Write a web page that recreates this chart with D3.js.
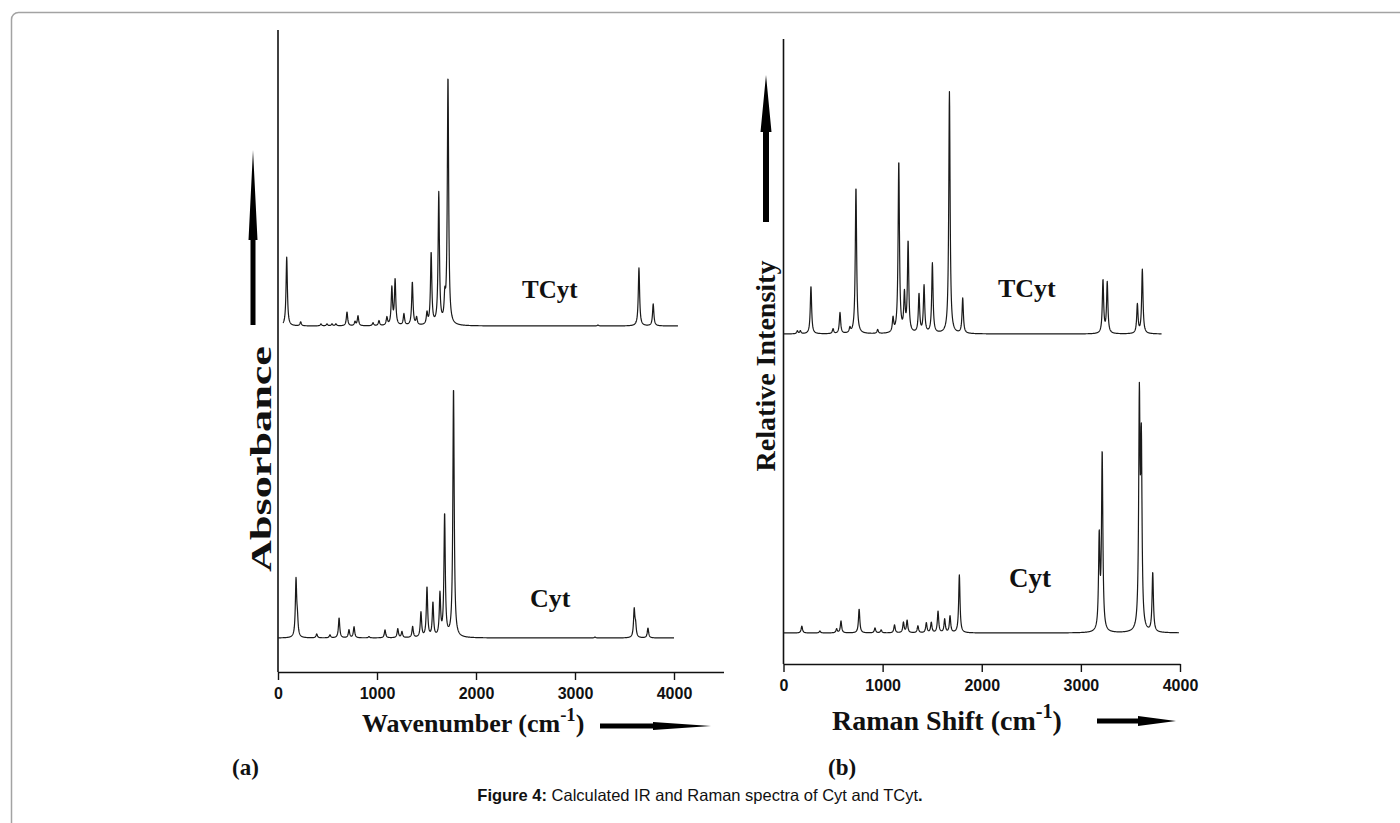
<!DOCTYPE html>
<html>
<head>
<meta charset="utf-8">
<script src="https://cdn.jsdelivr.net/npm/d3@7"></script>
<style>
  body { margin: 0; background: #fff; }
  svg { display: block; }
</style>
</head>
<body>
<script>
// page size
var w = 1400;
var h = 823;

// tick labels for both wavenumber axes
var tickValues = [0, 1000, 2000, 3000, 4000];

// peak lists: [wavenumber cm-1, relative intensity (strongest = 100)]
// (a) IR, Cyt
var irCytPeaks = [[182, 22.8], [196, 6], [391, 1.6], [525, 1.2], [617, 8], [717, 3.2], [768, 4.4],
  [919, 0.5], [1081, 3.2], [1210, 3.6], [1252, 2.4], [1360, 4.4], [1444, 10], [1505, 20],
  [1565, 13.6], [1636, 16.8], [1683, 49], [1773, 100], [3202, 0.4], [3598, 11], [3612, 4.5], [3737, 4]];
// (a) IR, TCyt
var irTCytPeaks = [[88, 27.8], [229, 1.6], [434, 0.8], [495, 0.8], [545, 0.8], [585, 0.8], [697, 5.6],
  [778, 1.6], [808, 4], [960, 1.2], [1020, 2], [1100, 3.2], [1150, 15], [1183, 18.3], [1272, 4.6],
  [1357, 17.5], [1400, 3], [1505, 4.6], [1547, 29], [1624, 53], [1685, 9], [1717, 100], [3232, 0.4],
  [3646, 23.4], [3790, 8.9]];
// (b) Raman, TCyt
var ramanTCytPeaks = [[140, 1.2], [170, 1.2], [277, 19.7], [500, 2], [570, 8.7], [670, 2], [731, 60.7],
  [950, 1.6], [1105, 5.8], [1163, 71], [1220, 15.2], [1257, 37.5], [1367, 16], [1418, 19.5],
  [1502, 28.9], [1674, 100], [1808, 14.5], [3223, 22], [3266, 21], [3570, 12], [3620, 26.5]];
// (b) Raman, Cyt
var ramanCytPeaks = [[185, 2.8], [367, 0.8], [536, 1.6], [580, 4.8], [763, 9.7], [923, 2], [985, 1.2],
  [1120, 3.2], [1210, 4.2], [1247, 5], [1356, 2.8], [1441, 4], [1491, 4.2], [1559, 8.7], [1626, 5.4],
  [1680, 6.7], [1774, 23.4], [3185, 37], [3215, 71.5], [3590, 91], [3610, 72], [3725, 24]];

// measured range of each trace
var irCytRange = [0, 4000];
var irTCytRange = [50, 4040];
var ramanTCytRange = [0, 3815];
var ramanCytRange = [0, 3990];

// half width of the calculated bands
var hwhm = 8;

// turns a peak list into points along the trace
function broaden(peaks, range) {
  var pts = [];
  for (var x = range[0]; x <= range[1]; x += 2) {
    var v = 0;
    peaks.forEach(function(p) {
      var t = (x - p[0]) / hwhm;
      v += p[1] / (1 + t * t);
    });
    pts.push({x: x, y: v});
  }
  return pts;
}

var svg = d3.select("body").append("svg")
  .attr("width", w)
  .attr("height", h)
  .style("font-family", "'Liberation Serif', 'Times New Roman', serif");

// grey frame round the figure
svg.append("rect")
  .attr("x", 11.5).attr("y", 12.5)
  .attr("width", 1420).attr("height", 900)
  .attr("rx", 7)
  .attr("fill", "none")
  .attr("stroke", "#a3a3a3")
  .attr("stroke-width", 1.5);

// draws a trace through its own scales
function drawTrace(x, y, peaks, range) {
  var line = d3.line()
    .x(function(d) { return x(d.x); })
    .y(function(d) { return y(d.y); });
  svg.append("path")
    .datum(broaden(peaks, range))
    .attr("fill", "none")
    .attr("stroke", "#1a1a1a")
    .attr("stroke-width", 1.2)
    .attr("stroke-linejoin", "round")
    .attr("d", line);
}

// x axis with bold sans tick labels
function drawXAxis(x, y0, yTop) {
  var g = svg.append("g")
    .attr("transform", "translate(0," + y0 + ")")
    .call(d3.axisBottom(x).tickValues(tickValues).tickSize(8).tickPadding(8).tickSizeOuter(0)
      .tickFormat(d3.format("d")));
  g.select(".domain").attr("stroke", "#111").attr("stroke-width", 1.6);
  g.selectAll(".tick line").attr("stroke", "#111").attr("stroke-width", 1.4);
  g.selectAll(".tick text")
    .attr("fill", "#111")
    .style("font-family", "'Liberation Sans', Arial, sans-serif")
    .style("font-weight", "bold")
    .style("font-size", "16px");

  // y axis line, no ticks
  svg.append("line")
    .attr("x1", x.range()[0]).attr("x2", x.range()[0])
    .attr("y1", yTop).attr("y2", y0)
    .attr("stroke", "#111").attr("stroke-width", 1.6);
}

// filled arrow: shaft then long tapered head
function arrow(x1, y1, x2, y2, shaft, head, headLen) {
  var len = Math.hypot(x2 - x1, y2 - y1);
  var ang = Math.atan2(y2 - y1, x2 - x1) * 180 / Math.PI;
  var s = shaft / 2, hh = head / 2, b = len - headLen;
  svg.append("path")
    .attr("transform", "translate(" + x1 + "," + y1 + ") rotate(" + ang + ")")
    .attr("d", "M0," + (-s) + "L" + b + "," + (-s) + "L" + b + "," + (-hh) +
      "L" + len + ",0L" + b + "," + hh + "L" + b + "," + s + "L0," + s + "Z")
    .attr("fill", "#000");
}

function label(x, y, text, size) {
  return svg.append("text")
    .attr("x", x).attr("y", y)
    .style("font-weight", "bold")
    .style("font-size", size + "px")
    .attr("fill", "#111")
    .text(text);
}

// axis title with superscript -1
function axisTitle(x, y, text, size) {
  var t = svg.append("text")
    .attr("x", x).attr("y", y)
    .style("font-weight", "bold")
    .style("font-size", size + "px")
    .attr("fill", "#111");
  t.append("tspan").text(text + " (cm");
  t.append("tspan").attr("dy", -size * 0.42).style("font-size", (size * 0.72) + "px").text("-1");
  t.append("tspan").attr("dy", size * 0.42).text(")");
}

// vertical title, optionally stretched to a given length
function vLabel(x, y, text, size, len) {
  var t = svg.append("text")
    .attr("transform", "translate(" + x + "," + y + ") rotate(-90)")
    .attr("text-anchor", "middle")
    .style("font-weight", "bold")
    .style("font-size", size + "px")
    .attr("fill", "#111")
    .text(text);
  if (len) t.attr("textLength", len).attr("lengthAdjust", "spacingAndGlyphs");
}

/*
(a) calculated IR
*/
var xIr = d3.scaleLinear().domain([0, 4500]).range([278, 723.5]);
var yIrCyt = d3.scaleLinear().domain([0, 100]).range([638, 388]);
var yIrTCyt = d3.scaleLinear().domain([0, 100]).range([326, 78]);

drawXAxis(xIr, 672, 30);
drawTrace(xIr, yIrTCyt, irTCytPeaks, irTCytRange);
drawTrace(xIr, yIrCyt, irCytPeaks, irCytRange);

label(522, 298, "TCyt", 25);
label(530, 607, "Cyt", 26);
axisTitle(362, 732, "Wavenumber", 26);
vLabel(271, 459, "Absorbance", 30, 226);
arrow(253, 325, 253, 150, 5, 9, 90);
arrow(600, 726, 711, 726, 5, 8, 58);
label(232, 775, "(a)", 23);

/*
(b) calculated Raman
*/
var xRa = d3.scaleLinear().domain([0, 4000]).range([783.5, 1180]);
var yRaCyt = d3.scaleLinear().domain([0, 100]).range([633, 385]);
var yRaTCyt = d3.scaleLinear().domain([0, 100]).range([334, 92]);

drawXAxis(xRa, 664, 39);
drawTrace(xRa, yRaTCyt, ramanTCytPeaks, ramanTCytRange);
drawTrace(xRa, yRaCyt, ramanCytPeaks, ramanCytRange);

label(998, 297, "TCyt", 26);
label(1009, 587, "Cyt", 27);
axisTitle(832, 730, "Raman Shift", 28);
vLabel(775, 366, "Relative Intensity", 28);
arrow(766, 222, 766, 75, 6, 11, 57);
arrow(1097, 721, 1176, 721, 5, 10, 38);
label(828, 775, "(b)", 23);

// caption
var cap = svg.append("text")
  .attr("x", w / 2).attr("y", 801)
  .attr("text-anchor", "middle")
  .style("font-family", "'Liberation Sans', Arial, sans-serif")
  .style("font-size", "16.5px")
  .attr("fill", "#111");
cap.append("tspan").style("font-weight", "bold").text("Figure 4:");
cap.append("tspan").text(" Calculated IR and Raman spectra of Cyt and TCyt");
cap.append("tspan").style("font-weight", "bold").text(".");
</script>
</body>
</html>
